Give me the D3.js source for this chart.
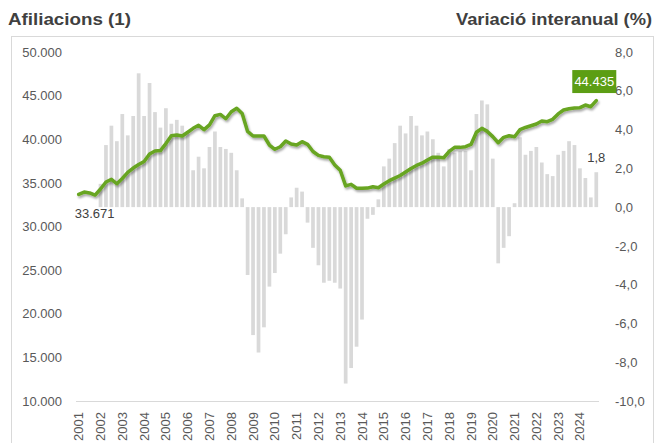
<!DOCTYPE html>
<html>
<head>
<meta charset="utf-8">
<script src="https://cdn.jsdelivr.net/npm/d3@7"></script>
<style>
body { margin: 0; background: #fff; }
svg { display: block; font-family: "Liberation Sans", Arial, sans-serif; }
</style>
</head>
<body>
<svg id="chart"></svg>
<script>

// anys (un tick per any, dades trimestrals)
var years = [2001, 2002, 2003, 2004, 2005, 2006, 2007, 2008, 2009, 2010, 2011, 2012,
             2013, 2014, 2015, 2016, 2017, 2018, 2019, 2020, 2021, 2022, 2023, 2024];

// afiliacions, 2001T1 - 2024T4
var afiliacions = [
  33671, 33950, 33850, 33600,  34300, 35100, 35400, 34900,  35500, 36200, 36700, 37100,
  37450, 38300, 38650, 38700,  39500, 40400, 40480, 40370,  40800, 41250, 41600, 41100,
  41650, 42700, 42850, 42350,  43150, 43550, 42950, 40900,  40370, 40370, 40370, 39340,
  38850, 39140, 39800, 39450,  39340, 39720, 39420, 38600,  38150, 38000, 37930, 37050,
  36450, 34650, 34830, 34380,  34380, 34400, 34560, 34450,  34870, 35250, 35550, 35850,
  36250, 36650, 37000, 37250,  37620, 37950, 37950, 37880,  38600, 39070, 39070, 39150,
  39400, 40800, 41250, 40900,  40300, 39600, 40220, 40400,  40290, 41100, 41350, 41550,
  41750, 42100, 42010, 42280,  42900, 43350, 43500, 43580,  43620, 43920, 43730, 44435
];

// variacio interanual (%)
var variacio = [
  null, null, null, null,  1.2, 3.2, 4.2, 3.4,  4.8, 3.7, 4.7, 6.9,
  4.7, 6.4, 4.9, 4.1,  5.1, 4.3, 4.5, 4.2,  3.8, 1.9, 2.6, 2.0,
  3.1, 3.9, 3.1, 3.0,  2.8, 1.9, 0.45, -3.5,  -6.6, -7.5, -6.2, -4.1,
  -3.4, -2.4, -1.4, 0.5,  1.0, 0.8, -0.8, -2.1,  -3.0, -3.9, -3.8, -3.9,
  -4.2, -9.1, -8.3, -7.2,  -5.8, -0.6, -0.4, 0.4,  2.1, 2.5, 3.3, 4.2,
  3.8, 4.7, 4.2, 3.7,  3.9, 3.5, 2.8, 2.1,  3.0, 2.8, 2.9, 2.9,
  1.9, 4.8, 5.5, 5.3,  2.5, -2.9, -2.1, -1.5,  0.2, 3.6, 2.7, 2.9,
  3.1, 2.3, 1.7, 1.6,  2.7, 2.9, 3.4, 3.2,  2.0, 1.5, 0.5, 1.8
];

var leftTicks = [10000, 15000, 20000, 25000, 30000, 35000, 40000, 45000, 50000];
var rightTicks = [-10, -8, -6, -4, -2, 0, 2, 4, 6, 8];

var quarters = [];
years.forEach(function(y){
  for (var q = 1; q <= 4; q++) quarters.push(y + "T" + q);
});

var ca = d3.formatLocale({decimal: ",", thousands: ".", grouping: [3], currency: ["", "€"], minus: "-"});
var fmtLeft = ca.format(",.0f");
var fmtRight = ca.format(",.1f");

var width = 659, height = 443;
var green = "#67a520";
var textCol = "#595959";

var svg = d3.select("#chart").attr("width", width).attr("height", height);

var defs = svg.append("defs");
defs.append("filter").attr("id", "shadow")
    .attr("x", "-5%").attr("y", "-20%").attr("width", "110%").attr("height", "140%")
    .append("feDropShadow")
    .attr("dx", 1.2).attr("dy", 2).attr("stdDeviation", 1)
    .attr("flood-color", "#000").attr("flood-opacity", 0.35);

// marc
svg.append("rect")
    .attr("x", 11.5).attr("y", 36.5)
    .attr("width", 642).attr("height", 420)
    .attr("fill", "none").attr("stroke", "#d9d9d9");

// titols
svg.append("text")
    .attr("x", 8).attr("y", 25)
    .attr("font-size", 16).attr("font-weight", "bold").attr("fill", "#404040")
    .attr("textLength", 123).attr("lengthAdjust", "spacingAndGlyphs")
    .text("Afiliacions (1)");

svg.append("text")
    .attr("x", 652).attr("y", 25)
    .attr("text-anchor", "end")
    .attr("font-size", 16).attr("font-weight", "bold").attr("fill", "#404040")
    .attr("textLength", 196).attr("lengthAdjust", "spacingAndGlyphs")
    .text("Variació interanual (%)");

var xScale = d3.scaleBand()
    .domain(quarters)
    .range([76, 599])
    .paddingInner(0.32)
    .paddingOuter(0.16);

var yLeft = d3.scaleLinear().domain([10000, 50000]).range([401, 52]);
var yRight = d3.scaleLinear().domain([-10, 8]).range([401, 52]);

var cx = function(q){ return xScale(q) + xScale.bandwidth() / 2; };

// barres variacio
svg.append("g").selectAll("rect")
    .data(quarters.filter(function(q, i){ return variacio[i] != null; }))
    .enter()
    .append("rect")
    .attr("x", function(q){ return xScale(q); })
    .attr("width", xScale.bandwidth())
    .attr("y", function(q){ var v = variacio[quarters.indexOf(q)]; return yRight(Math.max(0, v)); })
    .attr("height", function(q){ var v = variacio[quarters.indexOf(q)]; return Math.abs(yRight(v) - yRight(0)); })
    .attr("fill", "#d9d9d9");

// eix inferior
svg.append("line")
    .attr("x1", 76).attr("x2", 599)
    .attr("y1", 401.5).attr("y2", 401.5)
    .attr("stroke", "#d9d9d9");

// eix esquerre
var leftAxis = d3.axisLeft(yLeft).tickValues(leftTicks).tickFormat(fmtLeft).tickSize(0).tickPadding(0);
var gl = svg.append("g").attr("transform", "translate(62,0)").call(leftAxis);
gl.select(".domain").remove();
gl.selectAll("text").attr("font-size", 13).attr("fill", textCol).attr("font-family", null);

// eix dret
var rightAxis = d3.axisRight(yRight).tickValues(rightTicks).tickFormat(fmtRight).tickSize(0).tickPadding(0);
var gr = svg.append("g").attr("transform", "translate(615,0)").call(rightAxis);
gr.select(".domain").remove();
gr.selectAll("text").attr("font-size", 13).attr("fill", textCol).attr("font-family", null);

// etiquetes anys
var firstQ = years.map(function(y){ return y + "T1"; });
svg.append("g").selectAll("text")
    .data(firstQ)
    .enter()
    .append("text")
    .attr("transform", function(q){ return "translate(" + cx(q) + ",412) rotate(-90)"; })
    .attr("text-anchor", "end")
    .attr("dy", "0.35em")
    .attr("font-size", 13)
    .attr("fill", textCol)
    .text(function(q){ return q.slice(0, 4); });

// linia afiliacions
var line = d3.line()
    .x(function(d, i){ return cx(quarters[i]); })
    .y(function(d){ return yLeft(d); });

svg.append("path")
    .datum(afiliacions)
    .attr("d", line)
    .attr("fill", "none")
    .attr("stroke", green)
    .attr("stroke-width", 3.5)
    .attr("stroke-linejoin", "round")
    .attr("stroke-linecap", "round")
    .attr("filter", "url(#shadow)");

// etiquetes de dades
var n = quarters.length - 1;

svg.append("text")
    .attr("x", cx(quarters[0]) - 4)
    .attr("y", yLeft(afiliacions[0]) + 24)
    .attr("font-size", 13).attr("fill", "#404040")
    .text(fmtLeft(afiliacions[0]));

var lx = cx(quarters[n]) - 2, ly = yLeft(afiliacions[n]) - 19;
svg.append("rect")
    .attr("x", lx - 22).attr("y", ly - 11.5)
    .attr("width", 44).attr("height", 23)
    .attr("fill", "#5c9e14");
svg.append("text")
    .attr("x", lx).attr("y", ly)
    .attr("dy", "0.35em")
    .attr("text-anchor", "middle")
    .attr("font-size", 13).attr("fill", "#fff")
    .text(fmtLeft(afiliacions[n]));

svg.append("text")
    .attr("x", cx(quarters[n]) - 9)
    .attr("y", yRight(variacio[n]) - 10)
    .attr("font-size", 13).attr("fill", "#404040")
    .text(fmtRight(variacio[n]));

</script>
</body>
</html>
